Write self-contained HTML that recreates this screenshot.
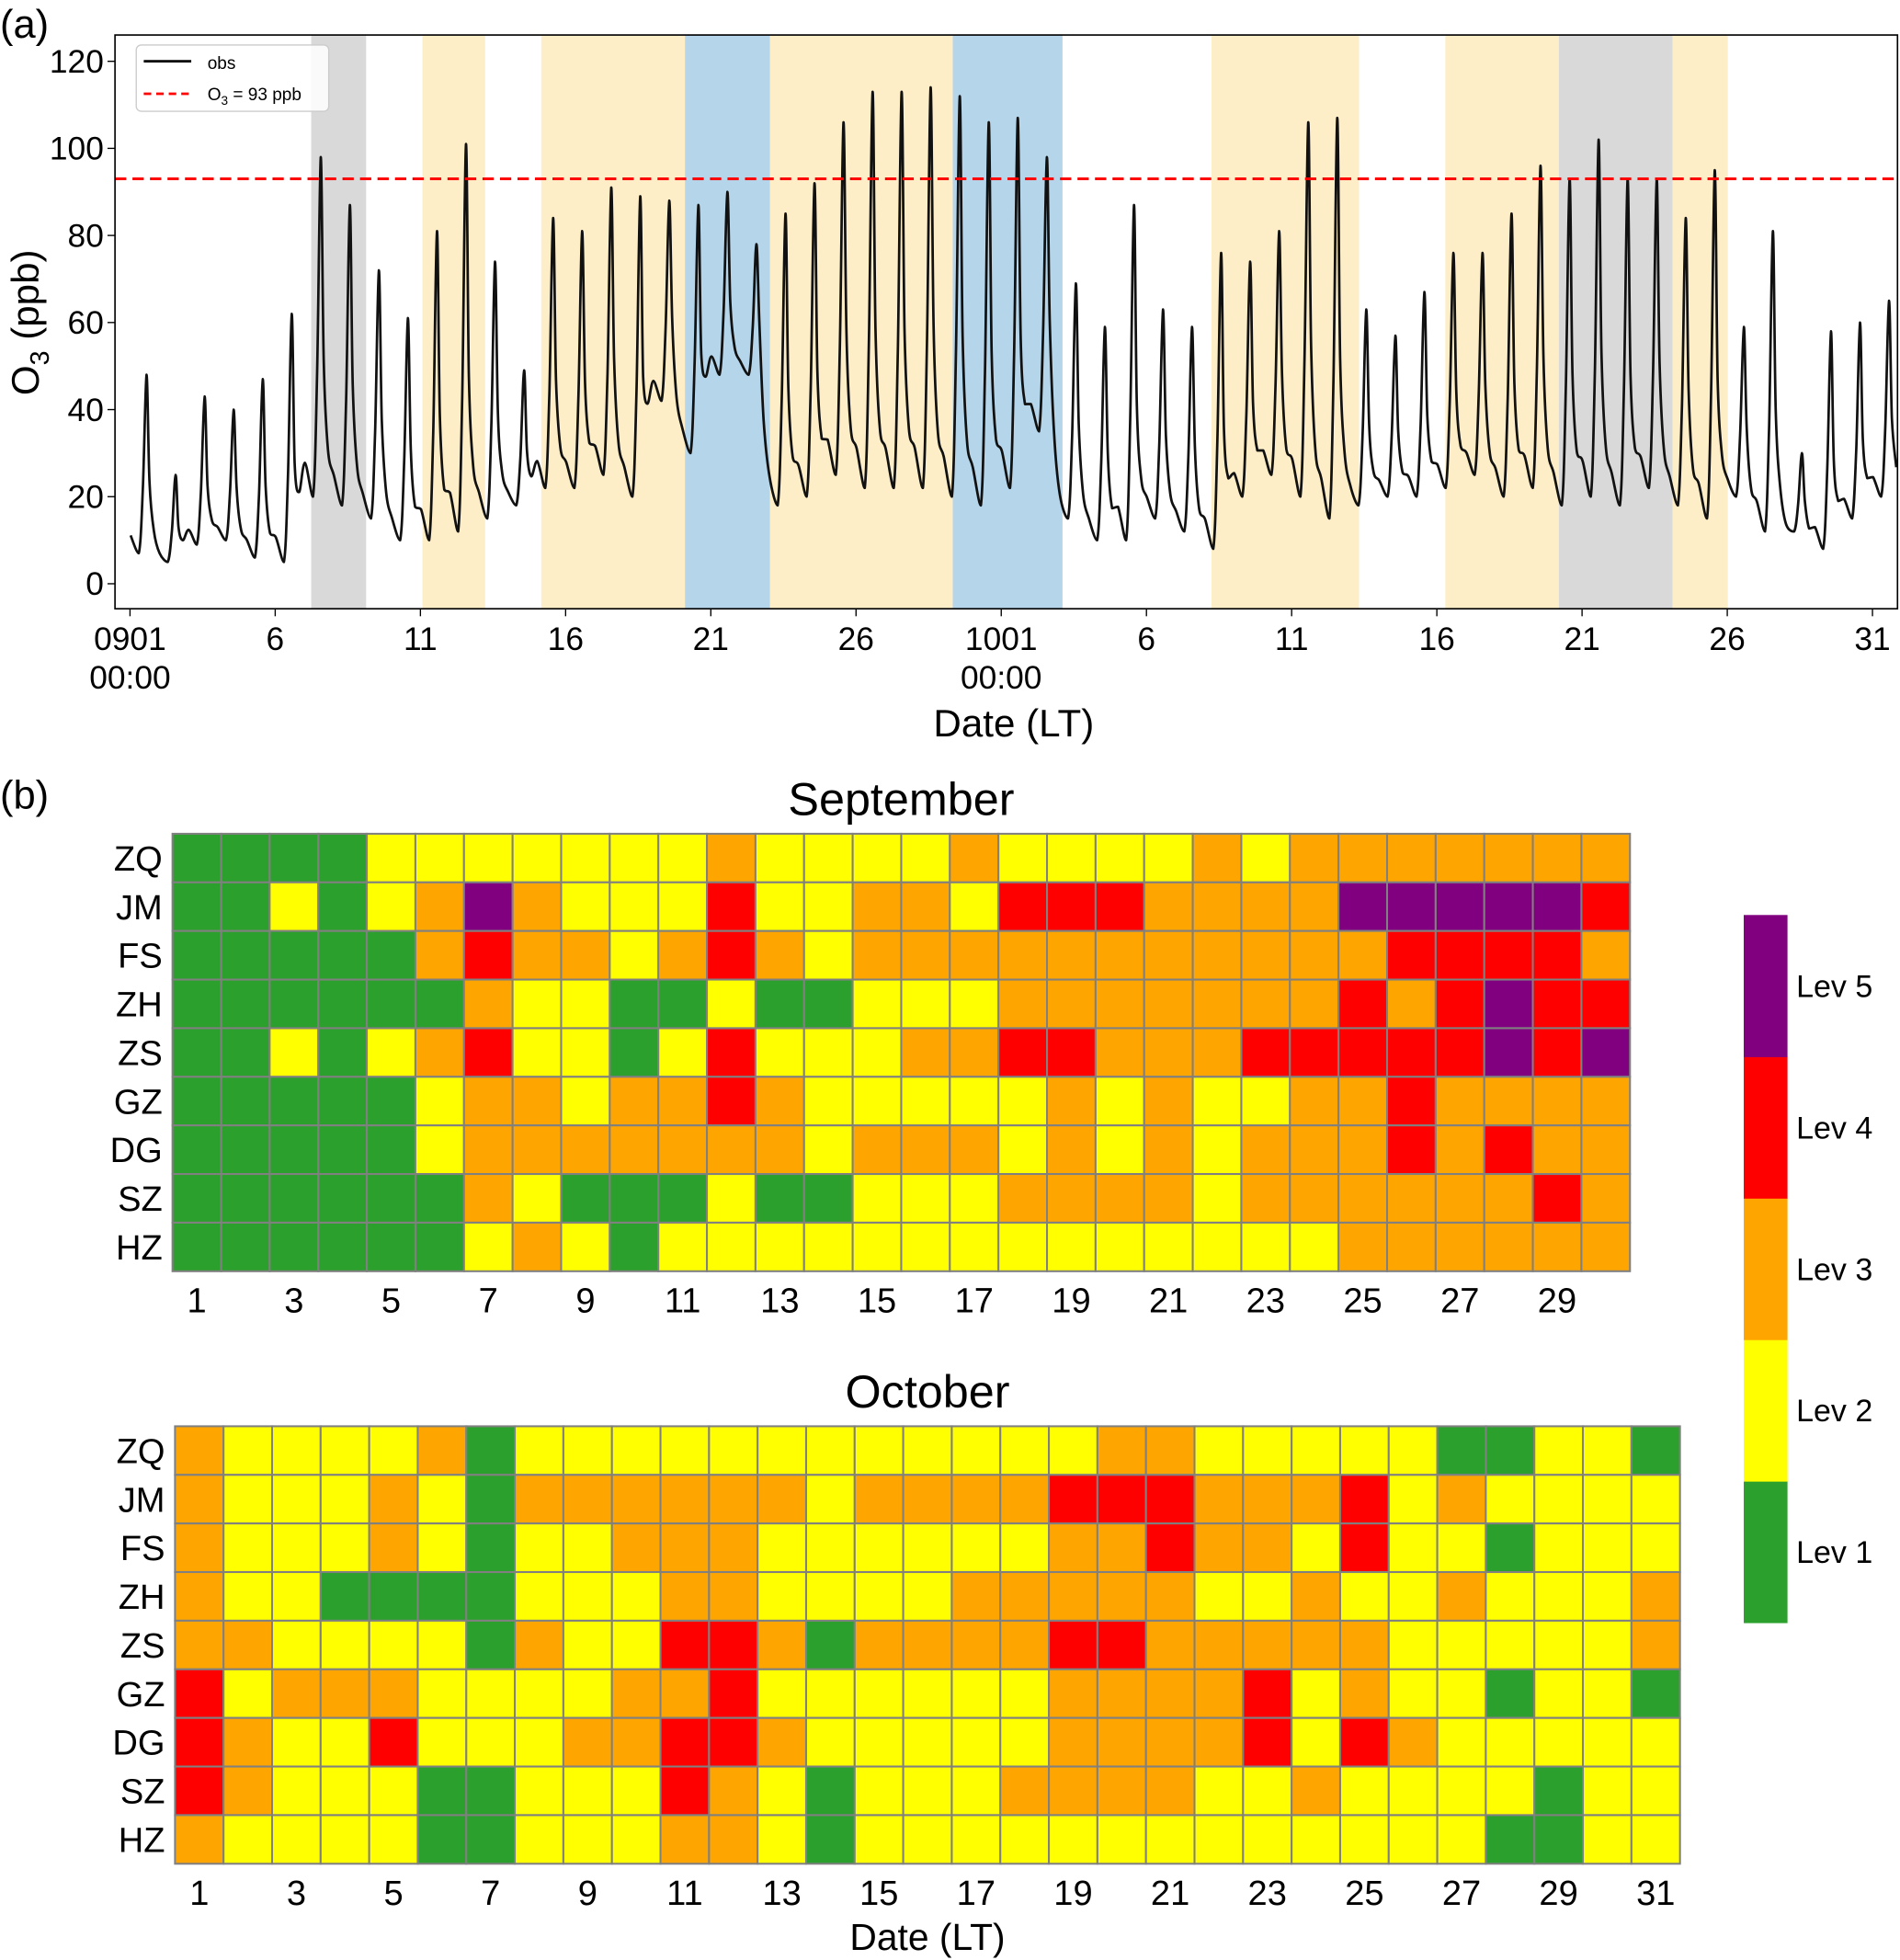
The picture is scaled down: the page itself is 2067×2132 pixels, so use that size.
<!DOCTYPE html>
<html><head><meta charset="utf-8"><style>
html,body{margin:0;padding:0;background:#fff}
svg{display:block;font-family:"Liberation Sans",Arial,sans-serif}
</style></head><body>
<svg id="fig" xmlns="http://www.w3.org/2000/svg" width="2067" height="2132" viewBox="0 0 1520 1568" preserveAspectRatio="none">
<g id="topPanel"></g>
<g id="heat"></g>
</svg>
<script>
// ---------- Panel (a) data ----------
const dailyPeaks=[48,25,43,40,47,62,98,87,72,61,81,101,74,49,84,81,91,89,88,87,90,78,85,92,106,113,113,114,112,106,107,98,69,59,87,63,59,76,74,81,106,107,63,57,67,76,76,85,96,93,102,93,93,84,95,59,81,30,58,60,65];
const dailyMins=[7,5,9,10,6,5,20,18,15,10,10,12,15,18,22,22,25,20,42,30,48,48,18,20,25,22,22,22,20,18,22,35,15,10,10,15,12,8,20,25,20,15,18,20,20,22,25,20,22,18,20,18,22,18,15,20,12,12,8,15,20];
const bandStarts=[6.24,10.07,14.16,19.11,22.04,28.33,37.24,45.29,49.2,53.12];
const bandEnds=[8.13,12.23,19.11,22.04,28.33,32.11,42.32,49.2,53.12,55.02];
const bandTypes=["gray","yellow","yellow","blue","yellow","blue","yellow","yellow","gray","yellow"];
const yTicks=[0,20,40,60,80,100,120];
const xTickDays=[0,5,10,15,20,25,30,35,40,45,50,55,60];
const xTickLabels=["0901","6","11","16","21","26","1001","6","11","16","21","26","31"];
const threshold=93;

// ---------- Panel (b) data ----------
const stations=["ZQ","JM","FS","ZH","ZS","GZ","DG","SZ","HZ"];
const sepLevels=[
[1,1,1,1,2,2,2,2,2,2,2,3,2,2,2,2,3,2,2,2,2,3,2,3,3,3,3,3,3,3],
[1,1,2,1,2,3,5,3,2,2,2,4,2,2,3,3,2,4,4,4,3,3,3,3,5,5,5,5,5,4],
[1,1,1,1,1,3,4,3,3,2,3,4,3,2,3,3,3,3,3,3,3,3,3,3,3,4,4,4,4,3],
[1,1,1,1,1,1,3,2,2,1,1,2,1,1,2,2,2,3,3,3,3,3,3,3,4,3,4,5,4,4],
[1,1,2,1,2,3,4,2,2,1,2,4,2,2,2,3,3,4,4,3,3,3,4,4,4,4,4,5,4,5],
[1,1,1,1,1,2,3,3,2,3,3,4,3,2,2,2,2,2,3,2,3,2,2,3,3,4,3,3,3,3],
[1,1,1,1,1,2,3,3,3,3,3,3,3,2,3,3,3,2,3,2,3,2,3,3,3,4,3,4,3,3],
[1,1,1,1,1,1,3,2,1,1,1,2,1,1,2,2,2,3,3,3,3,2,3,3,3,3,3,3,4,3],
[1,1,1,1,1,1,2,3,2,1,2,2,2,2,2,2,2,2,2,2,2,2,2,2,3,3,3,3,3,3]];
const octLevels=[
[3,2,2,2,2,3,1,2,2,2,2,2,2,2,2,2,2,2,2,3,3,2,2,2,2,2,1,1,2,2,1],
[3,2,2,2,3,2,1,3,3,3,3,3,3,2,3,3,3,3,4,4,4,3,3,3,4,2,3,2,2,2,2],
[3,2,2,2,3,2,1,2,2,3,3,3,2,2,2,2,2,2,3,3,4,3,3,2,4,2,2,1,2,2,2],
[3,2,2,1,1,1,1,2,2,2,3,3,2,2,2,2,3,3,3,3,3,2,2,3,2,2,3,2,2,2,3],
[3,3,2,2,2,2,1,3,2,2,4,4,3,1,3,3,3,3,4,4,3,3,3,3,3,2,2,2,2,2,3],
[4,2,3,3,3,2,2,2,2,3,3,4,2,2,2,2,2,2,3,3,3,3,4,2,3,2,2,1,2,2,1],
[4,3,2,2,4,2,2,2,3,3,4,4,3,2,2,2,2,2,3,3,3,3,4,2,4,3,2,2,2,2,2],
[4,3,2,2,2,1,1,2,2,2,4,3,2,1,2,2,2,3,3,3,3,2,2,3,2,2,2,2,1,2,2],
[3,2,2,2,2,1,1,2,2,2,3,3,2,1,2,2,2,2,2,2,2,2,2,2,2,2,2,1,1,2,2]];
const levelNames=["Lev 1","Lev 2","Lev 3","Lev 4","Lev 5"];

const NS="http://www.w3.org/2000/svg";
function mk(tag,attrs,parent,text){const e=document.createElementNS(NS,tag);for(const k in attrs)e.setAttribute(k,attrs[k]);if(text!==undefined)e.textContent=text;parent.appendChild(e);return e;}

// ---------- Panel (a) ----------
const topG=document.getElementById('topPanel');
const PL=92,PR=1518,PT=28,PB=487;
const xS=d=>104+d*23.233;
const yS=v=>467-v*3.483;
const bandCol={gray:"#d9d9d9",yellow:"#fdeec8",blue:"#b4d5ea"};
for(let i=0;i<bandStarts.length;i++){
  const r=mk('rect',{x:xS(bandStarts[i]),y:PT,width:xS(bandEnds[i])-xS(bandStarts[i]),height:PB-PT,fill:bandCol[bandTypes[i]]},topG);
  
  
}
let pts=[];
for(let i=0;i<dailyPeaks.length;i++){
  const mn=dailyMins[i],pk=dailyPeaks[i],nxt=i+1<dailyMins.length?dailyMins[i+1]:mn;
  pts.push([i+0.02,mn+(pk-mn)*0.1]);
  pts.push([i+0.3,mn]);
  pts.push([i+0.44,mn+(pk-mn)*0.35]);
  pts.push([i+0.57,pk]);
  pts.push([i+0.67,mn+(pk-mn)*0.4]);
  pts.push([i+0.82,(mn+nxt)/2+(pk-mn)*0.15]);
}
const P=pts.map(p=>[xS(p[0]),yS(p[1])]);
const clamp=(v,a,b)=>Math.max(Math.min(a,b),Math.min(Math.max(a,b),v));
let dStr='M'+P[0][0].toFixed(1)+','+P[0][1].toFixed(1);
for(let k=0;k<P.length-1;k++){
  const p0=P[Math.max(k-1,0)],p1=P[k],p2=P[k+1],p3=P[Math.min(k+2,P.length-1)];
  const c1=[p1[0]+(p2[0]-p0[0])/6,clamp(p1[1]+(p2[1]-p0[1])/6,p1[1],p2[1])];
  const c2=[p2[0]-(p3[0]-p1[0])/6,clamp(p2[1]-(p3[1]-p1[1])/6,p1[1],p2[1])];
  dStr+=' C'+c1[0].toFixed(1)+','+c1[1].toFixed(1)+' '+c2[0].toFixed(1)+','+c2[1].toFixed(1)+' '+p2[0].toFixed(1)+','+p2[1].toFixed(1);
}
const ln=mk('path',{d:dStr,fill:'none',stroke:'#111','stroke-width':2,'stroke-linejoin':'round'},topG);


const th=mk('line',{x1:PL,x2:PR,y1:yS(threshold),y2:yS(threshold),stroke:'#f00','stroke-width':2.2,'stroke-dasharray':'9,5'},topG);


const frame=mk('rect',{x:PL,y:PT,width:PR-PL,height:PB-PT,fill:'none',stroke:'#000','stroke-width':1.2},topG);


yTicks.forEach(v=>{
  mk('line',{x1:PL-6,x2:PL,y1:yS(v),y2:yS(v),stroke:'#000'},topG);
  const t=mk('text',{x:PL-9,y:yS(v)+9,'font-size':26,'text-anchor':'end'},topG,String(v));
  
  
});
xTickDays.forEach((dd,i)=>{
  mk('line',{x1:xS(dd),x2:xS(dd),y1:PB,y2:PB+6,stroke:'#000'},topG);
  const t=mk('text',{x:xS(dd),y:520,'font-size':26,'text-anchor':'middle'},topG,xTickLabels[i]);
  
  
});
[0,30].forEach(dd=>{
  const t=mk('text',{x:xS(dd),y:551,'font-size':26,'text-anchor':'middle'},topG,'00:00');
  
  
});
const xt=mk('text',{x:811,y:589,'font-size':31,'text-anchor':'middle'},topG,'Date (LT)');


const yt=mk('text',{transform:'translate(31,258) rotate(-90)','font-size':31,'text-anchor':'middle'},topG);


yt.innerHTML='O<tspan font-size="21" dy="8">3</tspan><tspan dy="-8"> (ppb)</tspan>';
const pa=mk('text',{x:0,y:30,'font-size':32},topG,'(a)');


const lg=mk('g',{},topG);


mk('rect',{x:109,y:36,width:154,height:53,rx:4,fill:'#fff','fill-opacity':0.85,stroke:'#ccc'},lg);
mk('line',{x1:115,x2:153,y1:49,y2:49,stroke:'#000','stroke-width':2},lg);
const l1=mk('text',{x:166,y:55,'font-size':14},lg,'obs');


mk('line',{x1:115,x2:153,y1:75,y2:75,stroke:'#f00','stroke-width':2,'stroke-dasharray':'6,4'},lg);
const l2=mk('text',{x:166,y:80,'font-size':14},lg);


l2.innerHTML='O<tspan font-size="10" dy="4">3</tspan><tspan dy="-4"> = 93 ppb</tspan>';

// ---------- Panel (b) ----------
const heat=document.getElementById('heat');
const colors=["#2ca02c","#ffff00","#ffa500","#ff0000","#800080"];
const pb=mk('text',{x:0,y:647,'font-size':32},heat,'(b)');


function drawHeat(levels,x0,x1,y0,y1,title,titleY,tickY,name){
  const g=mk('g',{},heat);
  
  
  const nc=levels[0].length,nr=levels.length;
  const cw=(x1-x0)/nc,ch=(y1-y0)/nr;
  for(let r=0;r<nr;r++){
    for(let c=0;c<nc;c++){
      const cell=mk('rect',{x:x0+c*cw,y:y0+r*ch,width:cw,height:ch,fill:colors[levels[r][c]-1],stroke:'#808080','stroke-width':1.5},g);
      
      
    }
    const t=mk('text',{x:x0-8,y:y0+(r+0.5)*ch+10,'font-size':28,'text-anchor':'end'},g,stations[r]);
    
    
  }
  for(let c=0;c<nc;c+=2){
    const t=mk('text',{x:x0+(c+0.5)*cw,y:tickY,'font-size':28,'text-anchor':'middle'},g,String(c+1));
    
    
  }
  const tt=mk('text',{x:(x0+x1)/2,y:titleY,'font-size':37,'text-anchor':'middle'},g,title);
  
  
}
drawHeat(sepLevels,138,1304,667,1017,'September',652,1050,'september-heatmap');
drawHeat(octLevels,140,1344,1141,1491,'October',1126,1524,'october-heatmap');
const hx=mk('text',{x:742,y:1560,'font-size':30,'text-anchor':'middle'},heat,'Date (LT)');


const cb=mk('g',{},heat);


const cbT=732,cbB=1298,segH=(cbB-cbT)/5;
for(let i=0;i<5;i++){
  const y=cbB-(i+1)*segH;
  const s=mk('rect',{x:1395,y:y,width:35,height:segH+0.5,fill:colors[i]},cb);
  
  
  const t=mk('text',{x:1437,y:y+segH/2+9,'font-size':25},cb,levelNames[i]);
  
  
}
</script>
</body></html>
